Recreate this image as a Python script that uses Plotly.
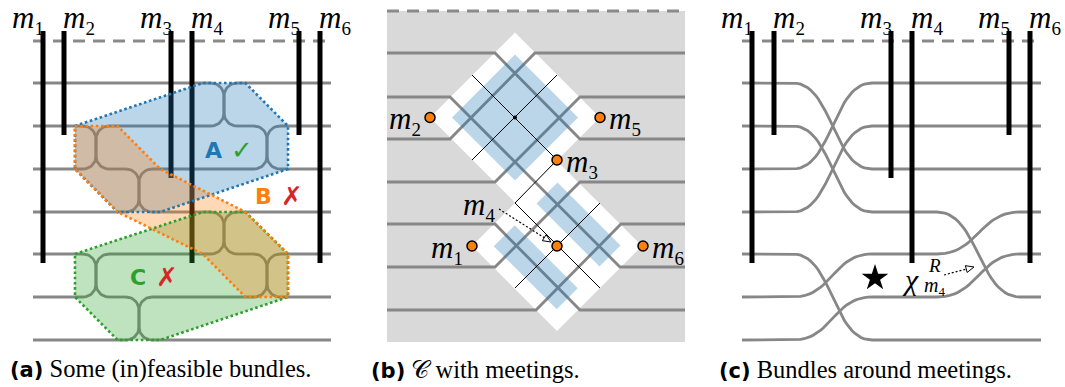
import numpy as np
import plotly.graph_objects as go

W, H = 1065, 387

# ---------------- shared data ----------------
LINE_Y = [83, 126, 169, 212, 254, 297, 340]          # storyline rows in (a) and (c)
MEETINGS = ["m1", "m2", "m3", "m4", "m5", "m6"]
BAR_BOTTOM_ROW = [5, 2, 3, 5, 2, 5]                   # lowest row each meeting touches
BAR_TOP = 31
DASH_Y = 41

# ---------------- panel (a) ----------------
A_XRANGE = [33, 331]
A_BAR_X = [43, 64, 171, 192, 299, 320]
A_SWAP_X = [96, 139, 224, 267, 224, 267, 96, 139]
A_SWAP_ROW = [2, 3, 1, 2, 4, 5, 5, 6]                 # upper row of each swapped pair
A_GRID_X0, A_GRID_DX = 75, 42.6
BUNDLE_NAMES = ["A", "B", "C"]
BUNDLE_COLORS = ["#1f77b4", "#ff7f0e", "#2ca02c"]
BUNDLE_FILLS = ["rgba(31,119,180,0.3)", "rgba(255,127,14,0.3)", "rgba(44,160,44,0.3)"]
BUNDLE_GRID = [
    [(0, 2), (3, 1), (4, 1), (5, 2), (5, 3), (2, 4), (1, 4), (0, 3)],
    [(0, 2), (1, 2), (2, 3), (4, 4), (5, 5), (5, 6), (4, 6), (3, 5), (1, 4), (0, 3)],
    [(0, 5), (3, 4), (4, 4), (5, 5), (5, 6), (2, 7), (1, 7), (0, 6)],
]
BUNDLE_LABEL_XY = [(213, 150), (263, 196), (138, 277)]
BUNDLE_MARK = ["✓", "✗", "✗"]
BUNDLE_MARK_COLOR = ["#2ca02c", "#d62728", "#d62728"]

# ---------------- panel (b) ----------------
B_BOX_X = [387, 685]
B_BOX_Y = [11, 342]
B_LINE_Y = [53, 97, 139, 182, 224, 267, 310]
B_LEFT_ROW = [1, 2, 3, 4, 5, 6, 7]
B_BEND_X0 = [495, 450, 450, 495, 495, 495, 536]
B_BEND_X1 = [580, 620, 535, 580, 580, 580, 621]
B_RIGHT_ROW = [3, 6, 1, 2, 7, 4, 5]
B_DIAMOND_C = [(515, 117.5), (557, 246)]
B_DIAMOND_HALF = 85
B_BLUE_SQUARE_C = (515, 117.5)
B_BLUE_SQUARE_HALF = 63
B_BAR_U = [354, 268.5]        # u = x - y of bars in lower cell
B_BAR_V = [740, 866]          # v = x + y range
B_BAR_HALF_U = 21
B_THIN = [[(472, 75), (557, 160)], [(472, 160), (557, 75)],
          [(557, 160), (515, 203), (600, 288)], [(600, 203), (515, 288)]]
B_MEET_X = [472, 430, 557, 557, 600, 643]
B_MEET_Y = [246, 117.5, 160, 246, 117.5, 246]

# ---------------- panel (c) ----------------
C_XRANGE = [742, 1041]
C_BAR_X = [752, 774, 891, 912, 1009, 1030]
C_SEG1 = [793, 872]
C_SEG2 = [937, 1020]
C_ROWS = [[1, 3, 3], [2, 4, 6], [3, 1, 1], [4, 2, 2], [5, 7, 7], [6, 5, 4], [7, 6, 5]]

CAPTIONS = [("(a)", "Some (in)feasible bundles.", 8),
            ("(b)", "𝒞 with meetings.", 369),
            ("(c)", "Bundles around meetings.", 717)]

GRAY = "#878787"
LW = 2.8
SERIF = "Liberation Serif"
MSIZE = 31

fig = go.Figure()


def add_line(xs, ys, color=GRAY, width=LW, dash=None):
    fig.add_trace(go.Scatter(x=list(xs), y=list(ys), mode="lines",
                             line=dict(color=color, width=width, dash=dash),
                             hoverinfo="skip", showlegend=False))


def add_poly(xs, ys, fill, lcolor="rgba(0,0,0,0)", lwidth=0, dash=None):
    xs, ys = list(xs), list(ys)
    fig.add_trace(go.Scatter(x=xs + [xs[0]], y=ys + [ys[0]], mode="lines", fill="toself",
                             fillcolor=fill, line=dict(color=lcolor, width=lwidth, dash=dash),
                             hoverinfo="skip", showlegend=False))


def text(x, y, t, size, color="black", family=SERIF, xa="center", ya="middle"):
    fig.add_annotation(x=x, y=y, text=t, showarrow=False, xanchor=xa, yanchor=ya,
                       font=dict(size=size, color=color, family=family))


def mlabel(name, sub=19):
    return "<i>m</i><sub><span style='font-size:%dpx'>%s</span></sub>" % (sub, name[1:])


def open_arrow(x0, y0, x1, y1, head=8, half=3.5):
    d = np.array([x1 - x0, y1 - y0], float)
    d /= np.hypot(*d)
    n = np.array([-d[1], d[0]])
    base = np.array([x1, y1]) - head * d
    add_line([x0, base[0]], [y0, base[1]], color="black", width=1.2, dash="2px,2px")
    p1, p2 = base + half * n, base - half * n
    add_poly([x1, p1[0], p2[0]], [y1, p1[1], p2[1]], "white", "black", 1)


def dashed_top(xr, y=DASH_Y):
    add_line(xr, [y, y], color="#8a8a8a", width=3, dash="12px,8px")


def bars(bar_x):
    for bx, row in zip(bar_x, BAR_BOTTOM_ROW):
        add_line([bx, bx], [BAR_TOP, LINE_Y[row - 1] + 9], color="black", width=5)


def top_labels(bar_x):
    for i, (bx, name) in enumerate(zip(bar_x, MEETINGS)):
        if i % 2 == 0:
            text(bx + 3, 19, mlabel(name), MSIZE, xa="right")
        else:
            text(bx - 3, 19, mlabel(name), MSIZE, xa="left")


# ======== panel (a) ========
dashed_top(A_XRANGE)
R = 13
for k in range(1, 8):
    cuts = sorted(sx for sx, sr in zip(A_SWAP_X, A_SWAP_ROW) if k in (sr, sr + 1))
    xs, ys = [], []
    start = A_XRANGE[0]
    for c in cuts:
        xs += [start, c - R, None]
        ys += [LINE_Y[k - 1]] * 2 + [None]
        start = c + R
    xs += [start, A_XRANGE[1]]
    ys += [LINE_Y[k - 1]] * 2
    add_line(xs, ys)

for sx, sr in zip(A_SWAP_X, A_SWAP_ROW):
    ya, yb = LINE_Y[sr - 1], LINE_Y[sr]
    t1 = np.linspace(-np.pi / 2, 0, 14)
    t2 = np.linspace(0, np.pi / 2, 14)
    lx = np.concatenate([sx - R + R * np.cos(t1), sx - R + R * np.cos(t2)])
    ly = np.concatenate([ya + R + R * np.sin(t1), yb - R + R * np.sin(t2)])
    add_line(lx, ly)
    t3 = np.linspace(-np.pi / 2, -np.pi, 14)
    t4 = np.linspace(np.pi, np.pi / 2, 14)
    rx = np.concatenate([sx + R + R * np.cos(t3), sx + R + R * np.cos(t4)])
    ry = np.concatenate([ya + R + R * np.sin(t3), yb - R + R * np.sin(t4)])
    add_line(rx, ry)

bars(A_BAR_X)

for idx in [0, 2, 1]:
    pts = BUNDLE_GRID[idx]
    add_poly([A_GRID_X0 + A_GRID_DX * i for i, _ in pts], [LINE_Y[r - 1] for _, r in pts],
             BUNDLE_FILLS[idx])
for idx in [0, 2, 1]:
    pts = BUNDLE_GRID[idx] + [BUNDLE_GRID[idx][0]]
    add_line([A_GRID_X0 + A_GRID_DX * i for i, _ in pts], [LINE_Y[r - 1] for _, r in pts],
             color=BUNDLE_COLORS[idx], width=2.6, dash="2.6px,2.6px")

for name, col, (lx, ly), mk, mc in zip(BUNDLE_NAMES, BUNDLE_COLORS, BUNDLE_LABEL_XY,
                                       BUNDLE_MARK, BUNDLE_MARK_COLOR):
    text(lx, ly, "<b>%s</b>" % name, 22, col, "DejaVu Sans")
    text(lx + 29, ly, mk, 26, mc, "DejaVu Sans")

top_labels(A_BAR_X)

# ======== panel (b) ========
add_poly([B_BOX_X[0], B_BOX_X[1], B_BOX_X[1], B_BOX_X[0]],
         [B_BOX_Y[0], B_BOX_Y[0], B_BOX_Y[1], B_BOX_Y[1]], "#d9d9d9")
dashed_top(B_BOX_X, B_BOX_Y[0])
for cx, cy in B_DIAMOND_C:
    h = B_DIAMOND_HALF
    add_poly([cx, cx + h, cx, cx - h], [cy - h, cy, cy + h, cy], "white")
for lr, b0, b1, rr in zip(B_LEFT_ROW, B_BEND_X0, B_BEND_X1, B_RIGHT_ROW):
    add_line([B_BOX_X[0], b0, b1, B_BOX_X[1]],
             [B_LINE_Y[lr - 1], B_LINE_Y[lr - 1], B_LINE_Y[rr - 1], B_LINE_Y[rr - 1]])
cx, cy = B_BLUE_SQUARE_C
h = B_BLUE_SQUARE_HALF
add_poly([cx, cx + h, cx, cx - h], [cy - h, cy, cy + h, cy], "rgba(31,119,180,0.3)")
for u in B_BAR_U:
    us = [u - B_BAR_HALF_U, u + B_BAR_HALF_U, u + B_BAR_HALF_U, u - B_BAR_HALF_U]
    vs = [B_BAR_V[0], B_BAR_V[0], B_BAR_V[1], B_BAR_V[1]]
    add_poly([(a + b) / 2 for a, b in zip(us, vs)], [(b - a) / 2 for a, b in zip(us, vs)],
             "rgba(31,119,180,0.3)")
for path in B_THIN:
    add_line([p[0] for p in path], [p[1] for p in path], color="black", width=1)
fig.add_trace(go.Scatter(x=[B_BLUE_SQUARE_C[0]], y=[B_BLUE_SQUARE_C[1]], mode="markers",
                         marker=dict(size=4, color="black"), hoverinfo="skip", showlegend=False))
open_arrow(499, 209, 551, 242)
fig.add_trace(go.Scatter(x=B_MEET_X, y=B_MEET_Y, mode="markers",
                         marker=dict(size=10, color="#ff7f0e", line=dict(color="black", width=1.5)),
                         hoverinfo="skip", showlegend=False))
B_LABEL_POS = [("right", -7, 0), ("right", -7, 0), ("left", 7, 0), ("right", -60, -43),
               ("left", 7, 0), ("left", 7, 0)]
for name, mx, my, (xa, dx, dy) in zip(MEETINGS, B_MEET_X, B_MEET_Y, B_LABEL_POS):
    text(mx + dx, my + dy + 3, mlabel(name), MSIZE, xa=xa)

# ======== panel (c) ========
dashed_top(C_XRANGE)


def bez(x0, x1, ya, yb, n=30):
    t = np.linspace(0, 1, n)
    w = x1 - x0
    P = [(x0, ya), (x0 + w / 2, ya), (x1 - w / 2, yb), (x1, yb)]
    bx = ((1 - t) ** 3) * P[0][0] + 3 * ((1 - t) ** 2) * t * P[1][0] + 3 * (1 - t) * t ** 2 * P[2][0] + t ** 3 * P[3][0]
    by = ((1 - t) ** 3) * P[0][1] + 3 * ((1 - t) ** 2) * t * P[1][1] + 3 * (1 - t) * t ** 2 * P[2][1] + t ** 3 * P[3][1]
    return list(bx), list(by)


for r0, r1, r2 in C_ROWS:
    y0, y1, y2 = LINE_Y[r0 - 1], LINE_Y[r1 - 1], LINE_Y[r2 - 1]
    xs, ys = [C_XRANGE[0]], [y0]
    bx, by = bez(C_SEG1[0], C_SEG1[1], y0, y1)
    xs += bx; ys += by
    bx, by = bez(C_SEG2[0], C_SEG2[1], y1, y2)
    xs += bx; ys += by
    xs.append(C_XRANGE[1]); ys.append(y2)
    add_line(xs, ys)

bars(C_BAR_X)
top_labels(C_BAR_X)

fig.add_trace(go.Scatter(x=[875], y=[278], mode="markers",
                         marker=dict(symbol="star", size=20, color="black"),
                         hoverinfo="skip", showlegend=False))
text(910, 279, "<i>χ</i>", 30)
text(934, 265, "<i>R</i>", 19)
text(934, 286, mlabel("m4", 13), 20)
open_arrow(944, 275, 974, 267)

# ======== captions ========
for tag, body, x0 in CAPTIONS:
    text(x0, 369, "<span style='font-family:DejaVu Sans;font-weight:bold;font-size:21px'>%s</span> %s"
         % (tag, body), 24.5, xa="left")

fig.update_layout(width=W, height=H, margin=dict(l=0, r=0, t=0, b=0),
                  paper_bgcolor="white", plot_bgcolor="white", showlegend=False,
                  xaxis=dict(range=[0, W], visible=False, fixedrange=True),
                  yaxis=dict(range=[H, 0], visible=False, fixedrange=True))
fig.write_html("out.html", config={"displayModeBar": False, "staticPlot": True},
               post_script="document.body.style.margin='0';document.body.style.overflow='hidden';")
